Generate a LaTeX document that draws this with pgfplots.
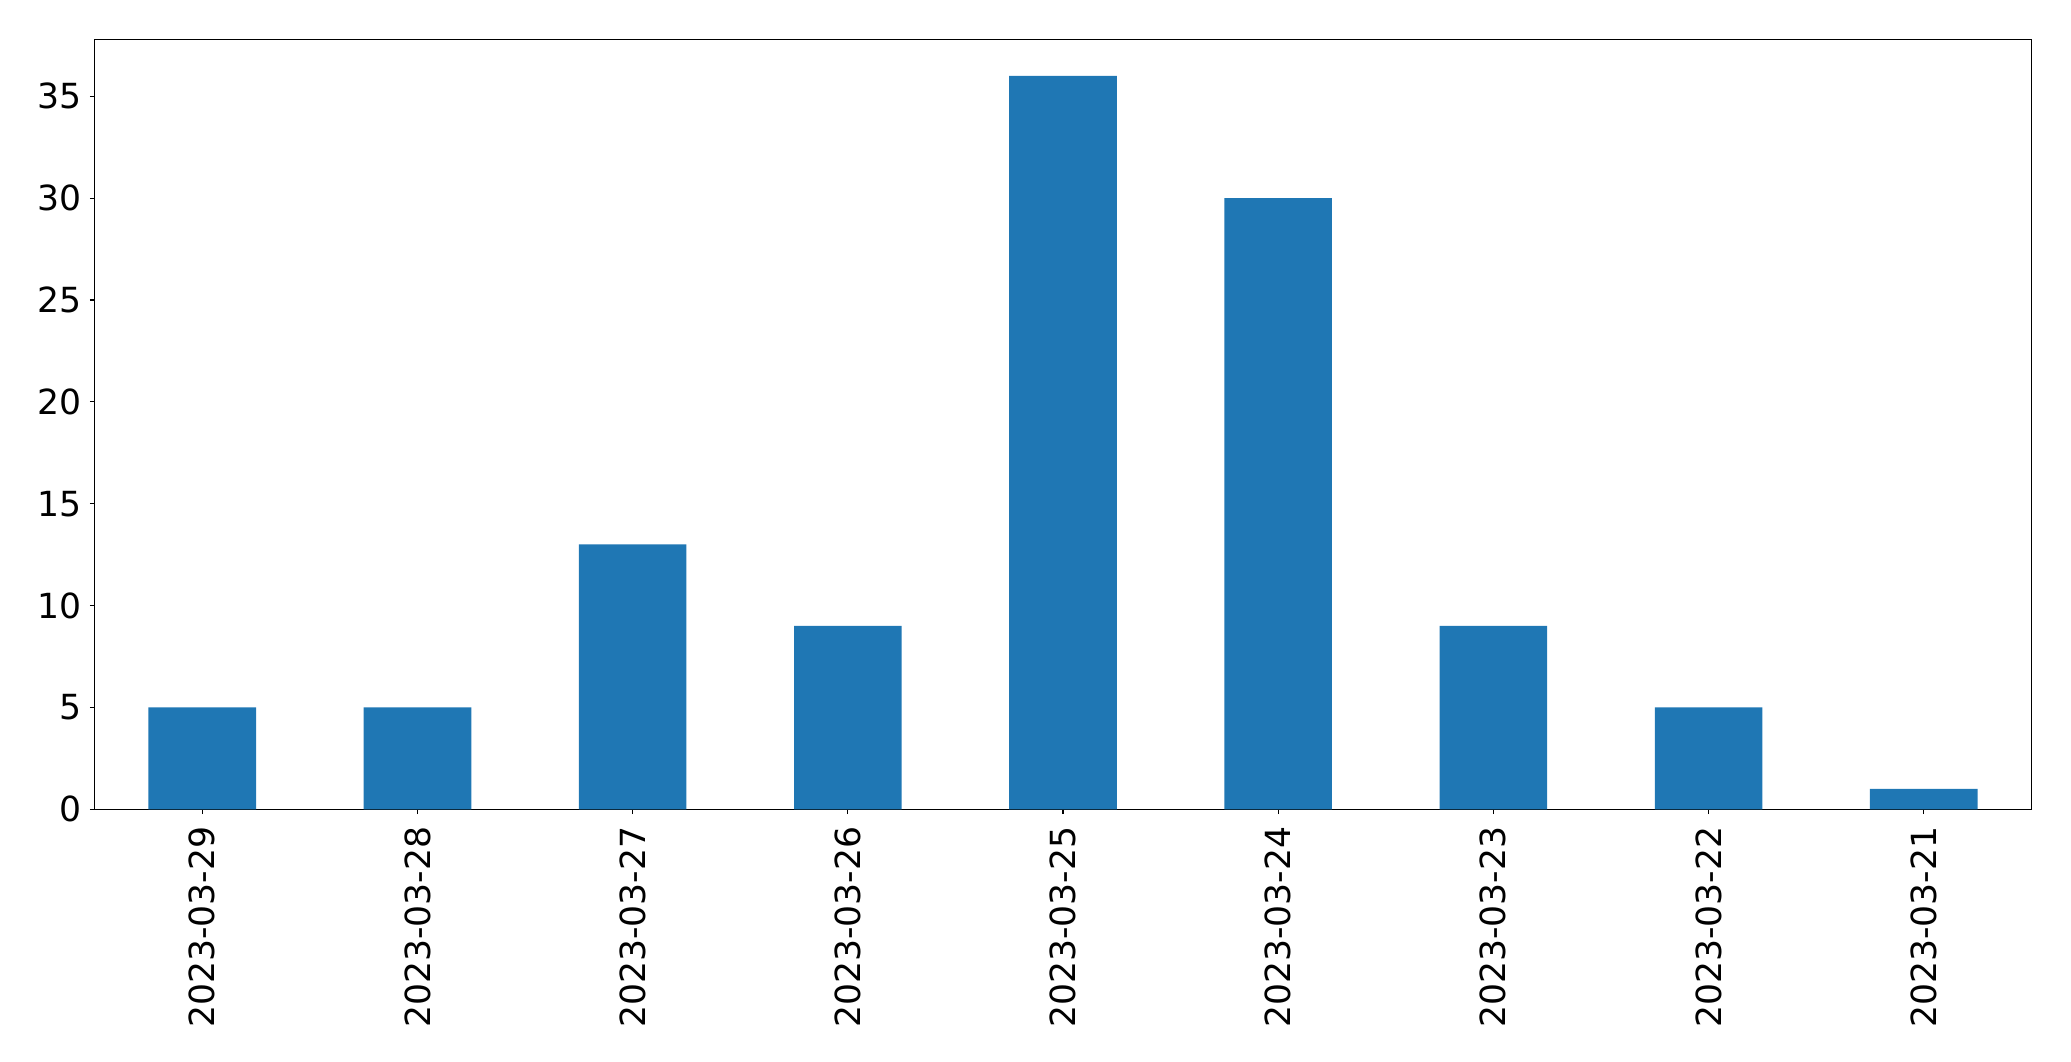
\documentclass[border=0pt]{standalone}
\usepackage{pgfplots}
\pgfplotsset{compat=1.18}
\usepackage{fontspec}
\setmainfont{DejaVu Sans}
\definecolor{barblue}{HTML}{1F77B4}
\begin{document}
\begin{tikzpicture}
\useasboundingbox (-47.35pt,-125.85pt) rectangle (988.15pt,404.65pt);
\begin{axis}[
  at={(0,0)}, anchor=south west,
  scale only axis,
  width=968.3pt, height=385pt,
  xmin=-0.5, xmax=8.5, ymin=0, ymax=37.8,
  xtick={0,1,2,3,4,5,6,7,8},
  xticklabels={2023-03-29,2023-03-28,2023-03-27,2023-03-26,2023-03-25,2023-03-24,2023-03-23,2023-03-22,2023-03-21},
  ytick={0,5,10,15,20,25,30,35},
  tick align=outside,
  major tick length=2.4pt,
  xtick pos=bottom, ytick pos=left,
  axis line style={line width=0.6pt, black},
  every tick/.style={line width=0.6pt, black},
  tick label style={font=\fontsize{17.3pt}{20pt}\selectfont},
  /pgf/number format/assume math mode=true,
  xticklabel style={rotate=90, anchor=east, inner sep=0pt, xshift=-6pt},
  yticklabel style={inner sep=0pt, xshift=-4pt},
  ybar, bar width=0.5,
]
\addplot[fill=barblue, draw=none] coordinates {(0,5) (1,5) (2,13) (3,9) (4,36) (5,30) (6,9) (7,5) (8,1)};
\end{axis}
\end{tikzpicture}
\end{document}
